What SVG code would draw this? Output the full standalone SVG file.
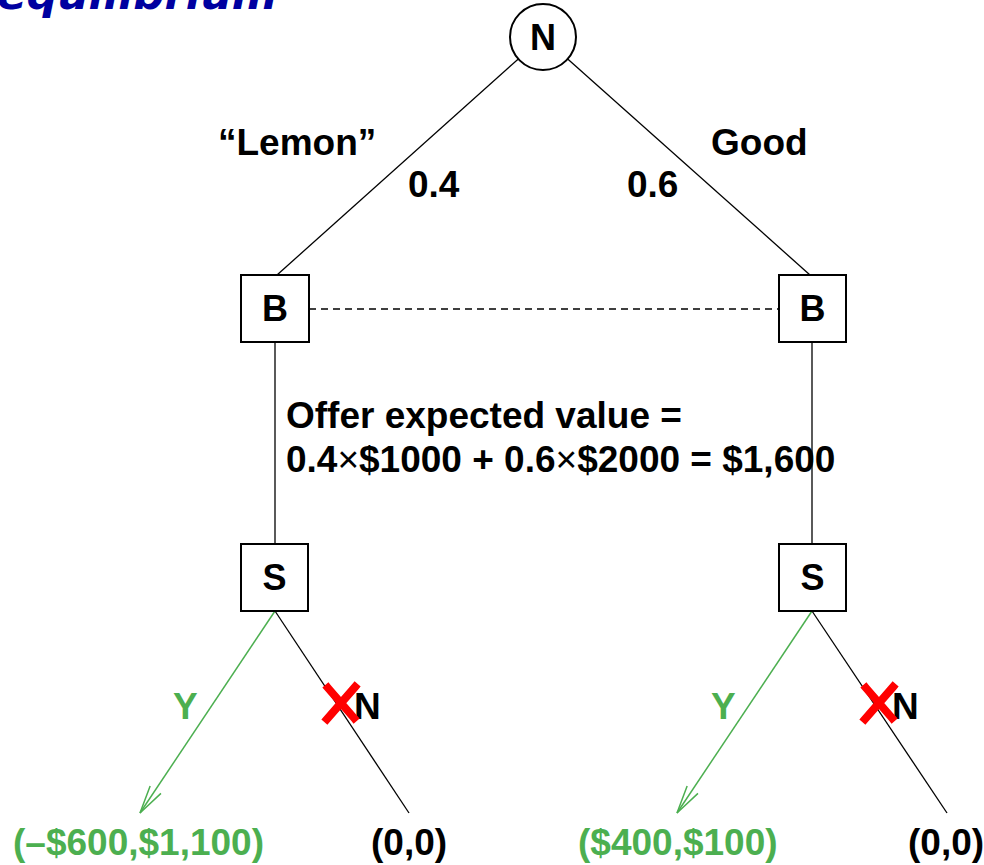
<svg xmlns="http://www.w3.org/2000/svg" width="984" height="865" viewBox="0 0 984 865">
<style>
text{font-family:"Liberation Sans",Arial,sans-serif;font-weight:bold;font-size:37px;fill:#000}
.g{fill:#4caf50}
.c{text-anchor:middle;font-size:36px}
.box{fill:#fff;stroke:#000;stroke-width:2}
.ln{stroke:#000;stroke-width:1.3;fill:none}
.gl{stroke:#4caf50;stroke-width:1.5;fill:none}
.x{stroke:#f00;stroke-width:8;stroke-linecap:square;fill:none}
.title{font-family:"DejaVu Sans",sans-serif;font-style:italic;font-size:42px;fill:#0000a0}
</style>
<defs>
<marker id="ga" markerUnits="userSpaceOnUse" viewBox="0 0 30 16" refX="29" refY="8" markerWidth="30" markerHeight="16" orient="auto">
<path d="M1,1.5 L29,8 L1,14.5" fill="none" stroke="#4caf50" stroke-width="1.5"/>
</marker>
</defs>
<text class="title" x="-3" y="9" textLength="280" lengthAdjust="spacingAndGlyphs">equilibrium</text>
<g id="labels">
<text x="218" y="155">“Lemon”</text>
<text x="408" y="197">0.4</text>
<text x="711" y="155">Good</text>
<text x="627" y="197">0.6</text>
<text x="286" y="428">Offer expected value =</text>
<text x="286" y="472">0.4<tspan font-weight="normal">×</tspan>$1000 + 0.6<tspan font-weight="normal">×</tspan>$2000 = $1,600</text>
<text class="g" x="173" y="719">Y</text>
<text x="354" y="719">N</text>
<text class="g" x="711" y="719">Y</text>
<text x="892" y="719">N</text>
<text class="g" x="13" y="855">(–$600,$1,100)</text>
<text x="371" y="855">(0,0)</text>
<text class="g" x="578" y="855">($400,$100)</text>
<text x="908" y="855">(0,0)</text>
</g>
<g id="connectors">
<line class="ln" x1="518.3" y1="58.9" x2="277" y2="275"/>
<line class="ln" x1="567.7" y1="58.9" x2="810" y2="275"/>
<line class="ln" x1="309" y1="309" x2="779" y2="309" stroke-dasharray="7,5"/>
<line class="ln" x1="275" y1="342" x2="275" y2="544"/>
<line class="ln" x1="812" y1="342" x2="812" y2="544"/>
<line class="gl" x1="275" y1="611" x2="140" y2="813" marker-end="url(#ga)"/>
<line class="ln" x1="275" y1="611" x2="409" y2="813"/>
<line class="gl" x1="812" y1="611" x2="677" y2="813" marker-end="url(#ga)"/>
<line class="ln" x1="812" y1="611" x2="947" y2="813"/>
<path class="x" d="M328,688 L354,718 M355,687 L327,719"/>
<path class="x" d="M866,688 L892,718 M893,687 L865,719"/>
</g>
<g id="node-N">
<circle cx="543" cy="37" r="33" class="box"/>
<text class="c" x="543" y="50">N</text>
</g>
<g id="node-B-left">
<rect class="box" x="241" y="275" width="68" height="67"/>
<text class="c" x="275" y="321">B</text>
</g>
<g id="node-B-right">
<rect class="box" x="779" y="275" width="67" height="67"/>
<text class="c" x="812.5" y="321">B</text>
</g>
<g id="node-S-left">
<rect class="box" x="241" y="544" width="67" height="67"/>
<text class="c" x="274.5" y="590">S</text>
</g>
<g id="node-S-right">
<rect class="box" x="779" y="544" width="67" height="67"/>
<text class="c" x="812.5" y="590">S</text>
</g>
</svg>
